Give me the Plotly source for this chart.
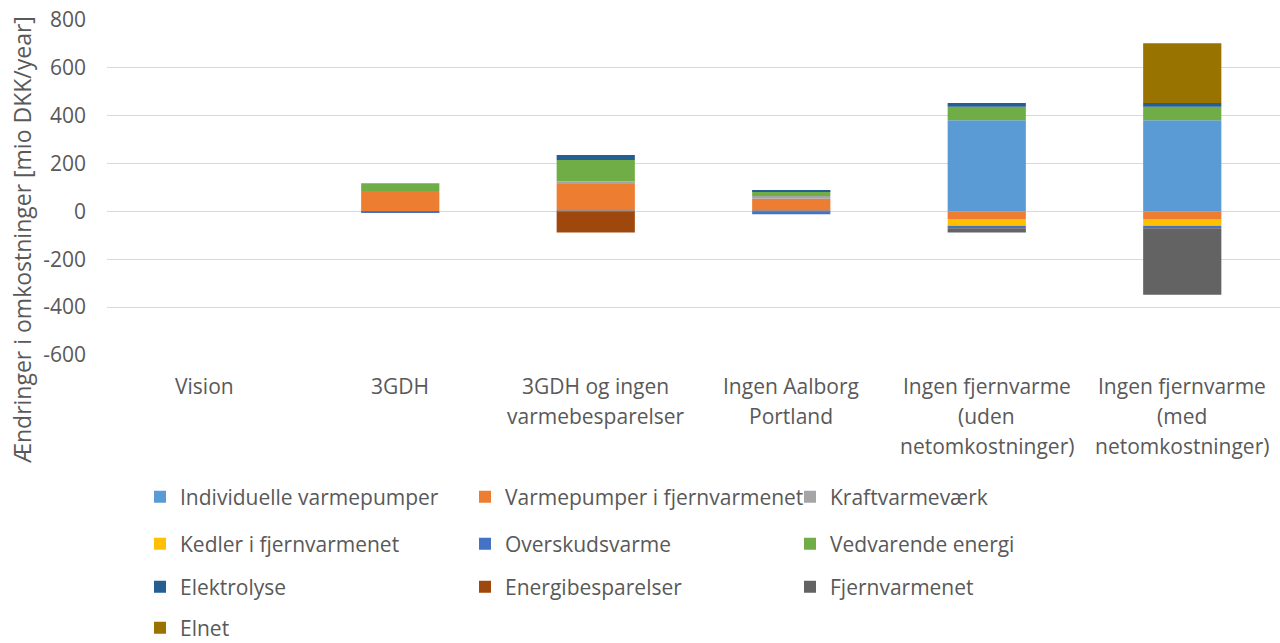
import plotly.graph_objects as go

categories = ["Vision", "3GDH", "3GDH og ingen varmebesparelser", "Ingen Aalborg Portland",
              "Ingen fjernvarme (uden netomkostninger)", "Ingen fjernvarme (med netomkostninger)"]
category_lines = [["Vision"], ["3GDH"], ["3GDH og ingen", "varmebesparelser"],
                  ["Ingen Aalborg", "Portland"],
                  ["Ingen fjernvarme", "(uden", "netomkostninger)"],
                  ["Ingen fjernvarme", "(med", "netomkostninger)"]]

series_names = ["Individuelle varmepumper", "Varmepumper i fjernvarmenet", "Kraftvarmeværk",
                "Kedler i fjernvarmenet", "Overskudsvarme", "Vedvarende energi",
                "Elektrolyse", "Energibesparelser", "Fjernvarmenet", "Elnet"]

individuelle_varmepumper = [0, 0, 4, 4, 381, 381]
varmepumper_fjernvarme = [0, 85, 111, 49, -32, -32]
kraftvarmevaerk = [0, 0, 10, 11, 0, 0]
kedler_fjernvarme = [0, 0, 0, 0, -28, -28]
overskudsvarme = [0, -6, 0, -12, -10, -10]
vedvarende_energi = [0, 33, 90, 21, 56, 56]
elektrolyse = [0, 0, 21, 4, 16, 16]
energibesparelser = [0, 0, -88, 0, 0, 0]
fjernvarmenet = [0, 0, 0, 0, -18, -278]
elnet = [0, 0, 0, 0, 0, 250]

values = [individuelle_varmepumper, varmepumper_fjernvarme, kraftvarmevaerk, kedler_fjernvarme,
          overskudsvarme, vedvarende_energi, elektrolyse, energibesparelser, fjernvarmenet, elnet]

colors = ["#5B9BD5", "#ED7D31", "#A5A5A5", "#FFC000", "#4472C4", "#70AD47",
          "#255E91", "#9E480E", "#636363", "#997300"]

y_ticks = [-600, -400, -200, 0, 200, 400, 600, 800]
y_ticktext = [str(v) for v in y_ticks]

legend_rows = ["legend", "legend", "legend", "legend2", "legend2", "legend2",
               "legend3", "legend3", "legend3", "legend4"]

fig = go.Figure()
for name, vals, col, lg in zip(series_names, values, colors, legend_rows):
    fig.add_trace(go.Bar(
        name=name, x=categories, y=vals, marker=dict(color=col, line=dict(width=0)),
        legend=lg,
    ))

FONT = "Open Sans, Liberation Sans, sans-serif"
GREY = "#595959"
FS = 21

def legend_cfg(ypx):
    return dict(
        orientation="h", x=140 / 1280, xref="container", xanchor="left",
        y=1 - ypx / 643, yref="container", yanchor="middle",
        entrywidth=280, entrywidthmode="pixels",
        font=dict(family=FONT, size=FS, color=GREY),
        bgcolor="rgba(0,0,0,0)", traceorder="normal",
    )

annotations = [dict(
    text="Ændringer i omkostninger [mio DKK/year]", textangle=-90,
    xref="paper", yref="paper", x=(22 - 107) / 1173, y=(355 - 240) / 335,
    xanchor="center", yanchor="middle", showarrow=False,
    font=dict(family=FONT, size=23, color=GREY),
)]
for cat, lines in zip(categories, category_lines):
    for i, line in enumerate(lines):
        annotations.append(dict(
            text=line, x=cat, xref="x", yref="paper", y=(355 - (386 + 30 * i)) / 335,
            xanchor="center", yanchor="middle", showarrow=False,
            font=dict(family=FONT, size=FS, color=GREY),
        ))

fig.update_layout(
    barmode="relative",
    bargap=0.6,
    width=1280, height=643,
    margin=dict(l=107, r=0, t=20, b=288, autoexpand=False),
    plot_bgcolor="white", paper_bgcolor="white",
    font=dict(family=FONT, size=FS, color=GREY),
    legend=legend_cfg(497),
    legend2=legend_cfg(544),
    legend3=legend_cfg(587),
    legend4=legend_cfg(628),
    xaxis=dict(showgrid=False, showline=False, ticks="", showticklabels=False),
    yaxis=dict(range=[-600, 800], tickvals=y_ticks, ticktext=y_ticktext, showgrid=True,
               gridcolor="#D9D9D9", gridwidth=1, zeroline=True, zerolinecolor="#D9D9D9",
               zerolinewidth=1, ticks="", ticklen=0, ticklabelstandoff=20,
               tickfont=dict(size=FS, color=GREY)),
    annotations=annotations,
)

fig.write_html("out.html", config={"displayModeBar": False})

# remove the default page margin so the figure sits at the window's top-left corner
with open("out.html", "r", encoding="utf-8") as f:
    html = f.read()
html = html.replace("<head>", "<head><style>html,body{margin:0;padding:0;overflow:hidden;}</style>", 1)
with open("out.html", "w", encoding="utf-8") as f:
    f.write(html)
